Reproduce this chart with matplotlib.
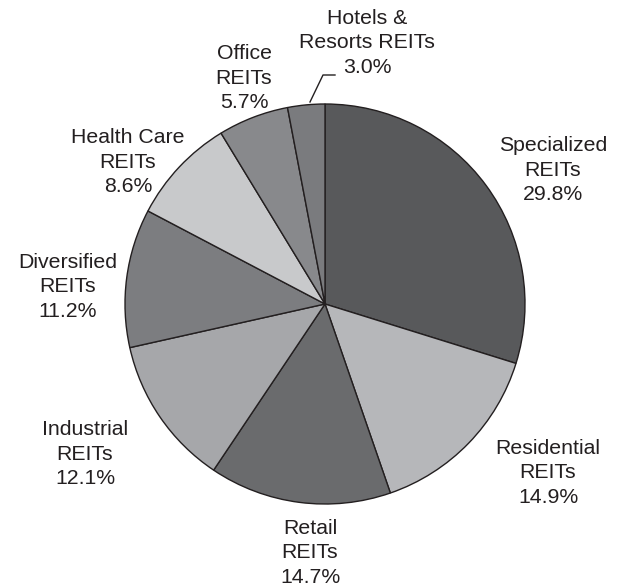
import matplotlib.pyplot as plt

plt.rcParams['font.family'] = ['Liberation Sans', 'DejaVu Sans']

# Data
categories = ["Specialized\nREITs", "Residential\nREITs", "Retail\nREITs", "Industrial\nREITs",
              "Diversified\nREITs", "Health Care\nREITs", "Office\nREITs", "Hotels &\nResorts REITs"]
shares = [29.8, 14.9, 14.7, 12.1, 11.2, 8.6, 5.7, 3.0]
colors = ["#58595b", "#b6b7ba", "#6a6b6d", "#a6a7aa", "#7c7d80", "#c8c9cb", "#88898c", "#7a7b7e"]

# label centres (data units, pie radius = 1)
label_pos = [(1.14, 0.67), (1.115, -0.845), (-0.075, -1.245), (-1.2, -0.75),
             (-1.285, 0.085), (-0.985, 0.71), (-0.405, 1.13), (0.21, 1.305)]

fig = plt.figure(figsize=(6.21, 5.87), dpi=100)
ax = fig.add_axes([0, 0, 1, 1])

ax.pie(shares, colors=colors, startangle=90, counterclock=False, radius=1,
       wedgeprops=dict(edgecolor="#231f20", linewidth=1.0))

text_color = "#231f20"
for name, val, (x, y) in zip(categories, shares, label_pos):
    ax.text(x, y, f"{name}\n{val:.1f}%", ha="center", va="center",
            fontsize=15.3, color=text_color, linespacing=1.38)

# leader line for the small hotels slice
ax.plot([-0.075, -0.01, 0.05], [1.01, 1.145, 1.145], color=text_color, lw=1.0)

ax.set_xlim(-1.625, 1.48)
ax.set_ylim(-1.415, 1.52)
ax.set_aspect('auto')
ax.axis('off')

fig.savefig("out.png", dpi=100)
